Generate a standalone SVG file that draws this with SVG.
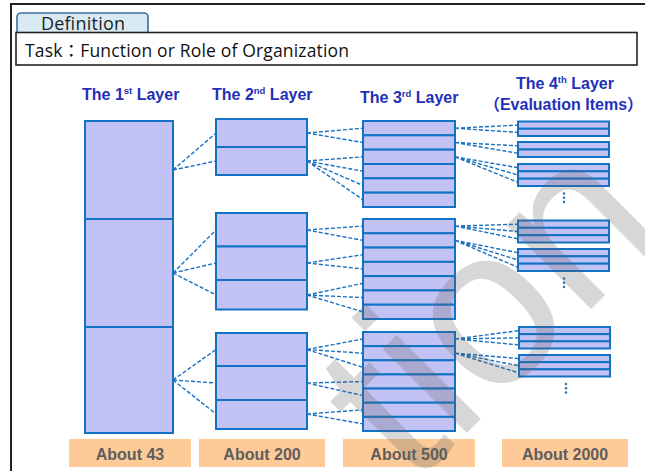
<svg xmlns="http://www.w3.org/2000/svg" width="645" height="471" viewBox="0 0 645 471">
<defs>
<style>
.bx{fill:#c3c2f4;stroke:#1272c4;stroke-width:2}
.cn{fill:none;stroke:#1a70c0;stroke-width:1.4;stroke-dasharray:4 2}
.hd{font-family:"Liberation Sans","Noto Sans CJK JP",sans-serif;font-weight:bold;font-size:16px;fill:#1f30b8}
.sp{font-size:9.5px}
.lb{fill:#fdca98}
.lt{font-family:"Liberation Sans",sans-serif;font-weight:bold;font-size:16px;fill:#5e5e5e;text-anchor:middle}
.dt{fill:#1a6fbf}
</style>
</defs>
<rect width="645" height="471" fill="#fff"/>
<g id="frame">
<path d="M11 471V4H645" fill="none" stroke="#222" stroke-width="2"/>
</g>
<g id="definition-tab">
<rect x="17" y="13" width="131" height="23" rx="4" fill="#d8ebf4" stroke="#3d6f9f" stroke-width="1.6"/>
<text x="41" y="30" font-family="'Open Sans','Noto Sans',sans-serif" font-size="18" fill="#1e1e1e" textLength="84">Definition</text>
</g>
<g id="task-box">
<rect x="16" y="32.5" width="621" height="32.5" fill="#fff" stroke="#222" stroke-width="1.6"/>
<text x="25" y="57" font-family="'Open Sans','Noto Sans','Noto Sans CJK JP',sans-serif" font-size="17.5" fill="#111" textLength="324">Task：Function or Role of Organization</text>
</g>
<g id="headings">
<text class="hd" x="82" y="100">The 1<tspan class="sp" dy="-6">st</tspan><tspan dy="6"> Layer</tspan></text>
<text class="hd" x="212" y="100">The 2<tspan class="sp" dy="-6">nd</tspan><tspan dy="6"> Layer</tspan></text>
<text class="hd" x="360" y="103">The 3<tspan class="sp" dy="-6">rd</tspan><tspan dy="6"> Layer</tspan></text>
<text class="hd" x="516" y="89">The 4<tspan class="sp" dy="-6">th</tspan><tspan dy="6"> Layer</tspan></text>
<text class="hd" x="563.5" y="110" text-anchor="middle">（Evaluation Items）</text>
</g>
<g id="connectors">
<path class="cn" d="M173 170L216 133M173 170L216 161M173 273L216 230M173 273L216 263M173 273L216 295M173 380L216 349.5M173 380L216 383M173 380L216 414"/>
<path class="cn" d="M307 133L363 128.2M307 133L363 142.5M307 161L363 156.8M307 161L363 171.2M307 161L363 185.5M307 161L363 199.8"/>
<path class="cn" d="M307 230L363 226.1M307 230L363 240.4M307 263L363 254.7M307 263L363 269M307 295L363 283.3M307 295L363 297.6M307 295L363 311.9"/>
<path class="cn" d="M307 349.5L363 339M307 349.5L363 353.2M307 349.5L363 367.4M307 383L363 381.5M307 383L363 395.6M307 414L363 409.8M307 414L363 423.9"/>
<path class="cn" d="M455 128.2L518 125.1M455 128.2L518 132.4M455 142.5L518 145.8M455 142.5L518 153.3M455 156.8L518 167.7M455 156.8L518 175M455 156.8L518 182.3"/>
<path class="cn" d="M455 226.1L518 224.2M455 226.1L518 231.5M455 226.1L518 238.8M455 240.4L518 252.7M455 240.4L518 260M455 240.4L518 267.3"/>
<path class="cn" d="M455 339L519 330.6M455 339L519 337.8M455 339L519 344.9M455 353.2L519 358.6M455 353.2L519 365.8M455 353.2L519 372.9"/>
</g>
<g id="layer1">
<g id="l1-1"><rect class="bx" x="85" y="121" width="88" height="98"/></g>
<g id="l1-2"><rect class="bx" x="85" y="219" width="88" height="108"/></g>
<g id="l1-3"><rect class="bx" x="85" y="327" width="88" height="106"/></g>
</g>
<g id="layer2">
<g id="l2-1"><rect class="bx" x="216" y="119" width="91" height="28"/></g>
<g id="l2-2"><rect class="bx" x="216" y="147" width="91" height="28"/></g>
<g id="l2-3"><rect class="bx" x="216" y="213" width="91" height="33.5"/></g>
<g id="l2-4"><rect class="bx" x="216" y="246.5" width="91" height="33.5"/></g>
<g id="l2-5"><rect class="bx" x="216" y="280" width="91" height="29.5"/></g>
<g id="l2-6"><rect class="bx" x="216" y="333" width="91" height="33"/></g>
<g id="l2-7"><rect class="bx" x="216" y="366" width="91" height="34"/></g>
<g id="l2-8"><rect class="bx" x="216" y="400" width="91" height="29"/></g>
</g>
<g id="layer3">
<g id="l3-1"><rect class="bx" x="363" y="121" width="92" height="14.33"/></g>
<g id="l3-2"><rect class="bx" x="363" y="135.33" width="92" height="14.33"/></g>
<g id="l3-3"><rect class="bx" x="363" y="149.67" width="92" height="14.33"/></g>
<g id="l3-4"><rect class="bx" x="363" y="164" width="92" height="14.33"/></g>
<g id="l3-5"><rect class="bx" x="363" y="178.33" width="92" height="14.33"/></g>
<g id="l3-6"><rect class="bx" x="363" y="192.67" width="92" height="14.33"/></g>
<g id="l3-7"><rect class="bx" x="363" y="219" width="92" height="14.29"/></g>
<g id="l3-8"><rect class="bx" x="363" y="233.29" width="92" height="14.29"/></g>
<g id="l3-9"><rect class="bx" x="363" y="247.57" width="92" height="14.29"/></g>
<g id="l3-10"><rect class="bx" x="363" y="261.86" width="92" height="14.29"/></g>
<g id="l3-11"><rect class="bx" x="363" y="276.14" width="92" height="14.29"/></g>
<g id="l3-12"><rect class="bx" x="363" y="290.43" width="92" height="14.29"/></g>
<g id="l3-13"><rect class="bx" x="363" y="304.71" width="92" height="14.29"/></g>
<g id="l3-14"><rect class="bx" x="363" y="332" width="92" height="14.14"/></g>
<g id="l3-15"><rect class="bx" x="363" y="346.14" width="92" height="14.14"/></g>
<g id="l3-16"><rect class="bx" x="363" y="360.29" width="92" height="14.14"/></g>
<g id="l3-17"><rect class="bx" x="363" y="374.43" width="92" height="14.14"/></g>
<g id="l3-18"><rect class="bx" x="363" y="388.57" width="92" height="14.14"/></g>
<g id="l3-19"><rect class="bx" x="363" y="402.71" width="92" height="14.14"/></g>
<g id="l3-20"><rect class="bx" x="363" y="416.86" width="92" height="14.14"/></g>
</g>
<g id="layer4">
<g id="l4-1"><rect class="bx" x="518" y="121.5" width="91" height="7.25"/></g>
<g id="l4-2"><rect class="bx" x="518" y="128.75" width="91" height="7.25"/></g>
<g id="l4-3"><rect class="bx" x="518" y="142" width="91" height="7.5"/></g>
<g id="l4-4"><rect class="bx" x="518" y="149.5" width="91" height="7.5"/></g>
<g id="l4-5"><rect class="bx" x="518" y="164" width="91" height="7.33"/></g>
<g id="l4-6"><rect class="bx" x="518" y="171.33" width="91" height="7.33"/></g>
<g id="l4-7"><rect class="bx" x="518" y="178.67" width="91" height="7.33"/></g>
<g id="l4-8"><rect class="bx" x="518" y="220.5" width="91" height="7.33"/></g>
<g id="l4-9"><rect class="bx" x="518" y="227.83" width="91" height="7.33"/></g>
<g id="l4-10"><rect class="bx" x="518" y="235.17" width="91" height="7.33"/></g>
<g id="l4-11"><rect class="bx" x="518" y="249" width="91" height="7.33"/></g>
<g id="l4-12"><rect class="bx" x="518" y="256.33" width="91" height="7.33"/></g>
<g id="l4-13"><rect class="bx" x="518" y="263.67" width="91" height="7.33"/></g>
<g id="l4-14"><rect class="bx" x="519" y="327" width="91" height="7.17"/></g>
<g id="l4-15"><rect class="bx" x="519" y="334.17" width="91" height="7.17"/></g>
<g id="l4-16"><rect class="bx" x="519" y="341.33" width="91" height="7.17"/></g>
<g id="l4-17"><rect class="bx" x="519" y="355" width="91" height="7.17"/></g>
<g id="l4-18"><rect class="bx" x="519" y="362.17" width="91" height="7.17"/></g>
<g id="l4-19"><rect class="bx" x="519" y="369.33" width="91" height="7.17"/></g>
<g id="dots">
<circle class="dt" cx="564" cy="193.5" r="1.2"/><circle class="dt" cx="564" cy="197.8" r="1.2"/><circle class="dt" cx="564" cy="202" r="1.2"/>
<circle class="dt" cx="564" cy="278.5" r="1.2"/><circle class="dt" cx="564" cy="282.8" r="1.2"/><circle class="dt" cx="564" cy="287" r="1.2"/>
<circle class="dt" cx="566" cy="384" r="1.2"/><circle class="dt" cx="566" cy="388.3" r="1.2"/><circle class="dt" cx="566" cy="392.5" r="1.2"/>
</g>
</g>
<g id="counts">
<g id="c1"><rect class="lb" x="69" y="439" width="122" height="28"/><text class="lt" x="130" y="460">About 43</text></g>
<g id="c2"><rect class="lb" x="199" y="439" width="126" height="28"/><text class="lt" x="262" y="460">About 200</text></g>
<g id="c3"><rect class="lb" x="343" y="439" width="132" height="28"/><text class="lt" x="409" y="460">About 500</text></g>
<g id="c4"><rect class="lb" x="502" y="439" width="126" height="28"/><text class="lt" x="565" y="460">About 2000</text></g>
</g>
<g id="watermark">
<text transform="translate(412 488) rotate(-45)" font-family="'Liberation Sans',sans-serif" font-size="225" fill="#606060" fill-opacity="0.25">tion</text>
</g>
</svg>
